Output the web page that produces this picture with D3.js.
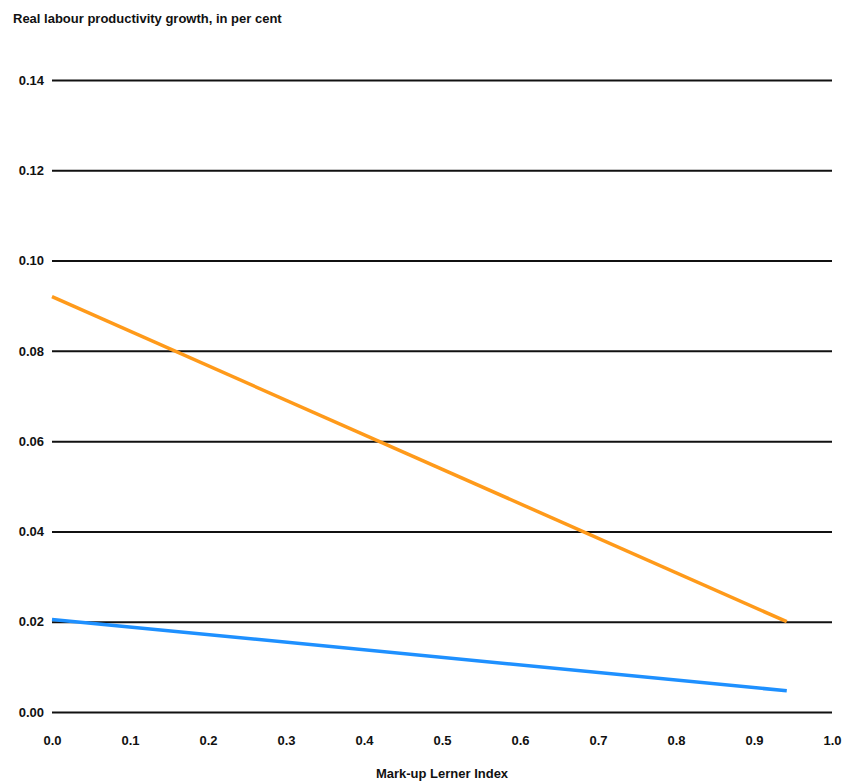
<!DOCTYPE html>
<html><head><meta charset="utf-8">
<script src="https://cdn.jsdelivr.net/npm/d3@7"></script>
<style>
body{margin:0;background:#fff;}
text{font-family:"Liberation Sans",Arial,sans-serif;font-weight:bold;fill:#111;}
</style></head>
<body><svg id="c" width="844" height="783"></svg>
<script>
const xTicks = [0.0,0.1,0.2,0.3,0.4,0.5,0.6,0.7,0.8,0.9,1.0];
const yTicks = [0.00,0.02,0.04,0.06,0.08,0.10,0.12,0.14];
const markup = [0.0, 0.942];
const seriesOrange = [0.092, 0.020];
const seriesBlue = [0.0205, 0.0047];
const colors = {orange:"#FF9A1A", blue:"#1E90FF"};

const svg = d3.select("#c");
const x = d3.scaleLinear().domain([0,1]).range([52,832]);
const y = d3.scaleLinear().domain([0,0.14]).range([712,80]);

svg.append("text").attr("x",13).attr("y",23).attr("font-size",13).text("Real labour productivity growth, in per cent");

const gy = svg.append("g").attr("transform","translate(52,0)")
  .call(d3.axisLeft(y).tickValues(yTicks).tickFormat(d3.format(".2f")).tickSize(-780).tickPadding(8));
gy.select(".domain").remove();
gy.selectAll("line").attr("stroke","#111").attr("stroke-width",2);
gy.selectAll("text").attr("font-size",13).attr("font-family",null).attr("fill","#111");

const gx = svg.append("g").attr("transform","translate(0,712)")
  .call(d3.axisBottom(x).tickValues(xTicks).tickFormat(d3.format(".1f")).tickSize(0).tickPadding(24));
gx.select(".domain").remove();
gx.selectAll("text").attr("font-size",13).attr("font-family",null).attr("fill","#111");

svg.append("text").attr("x",442).attr("y",778).attr("text-anchor","middle").attr("font-size",13).text("Mark-up Lerner Index");

const line = d3.line().x(d=>x(d[0])).y(d=>y(d[1]));
[[seriesOrange,colors.orange],[seriesBlue,colors.blue]].forEach(([s,c])=>{
  svg.append("path").datum(markup.map((m,i)=>[m,s[i]])).attr("d",line)
    .attr("fill","none").attr("stroke",c).attr("stroke-width",3.5);
});
</script></body></html>
